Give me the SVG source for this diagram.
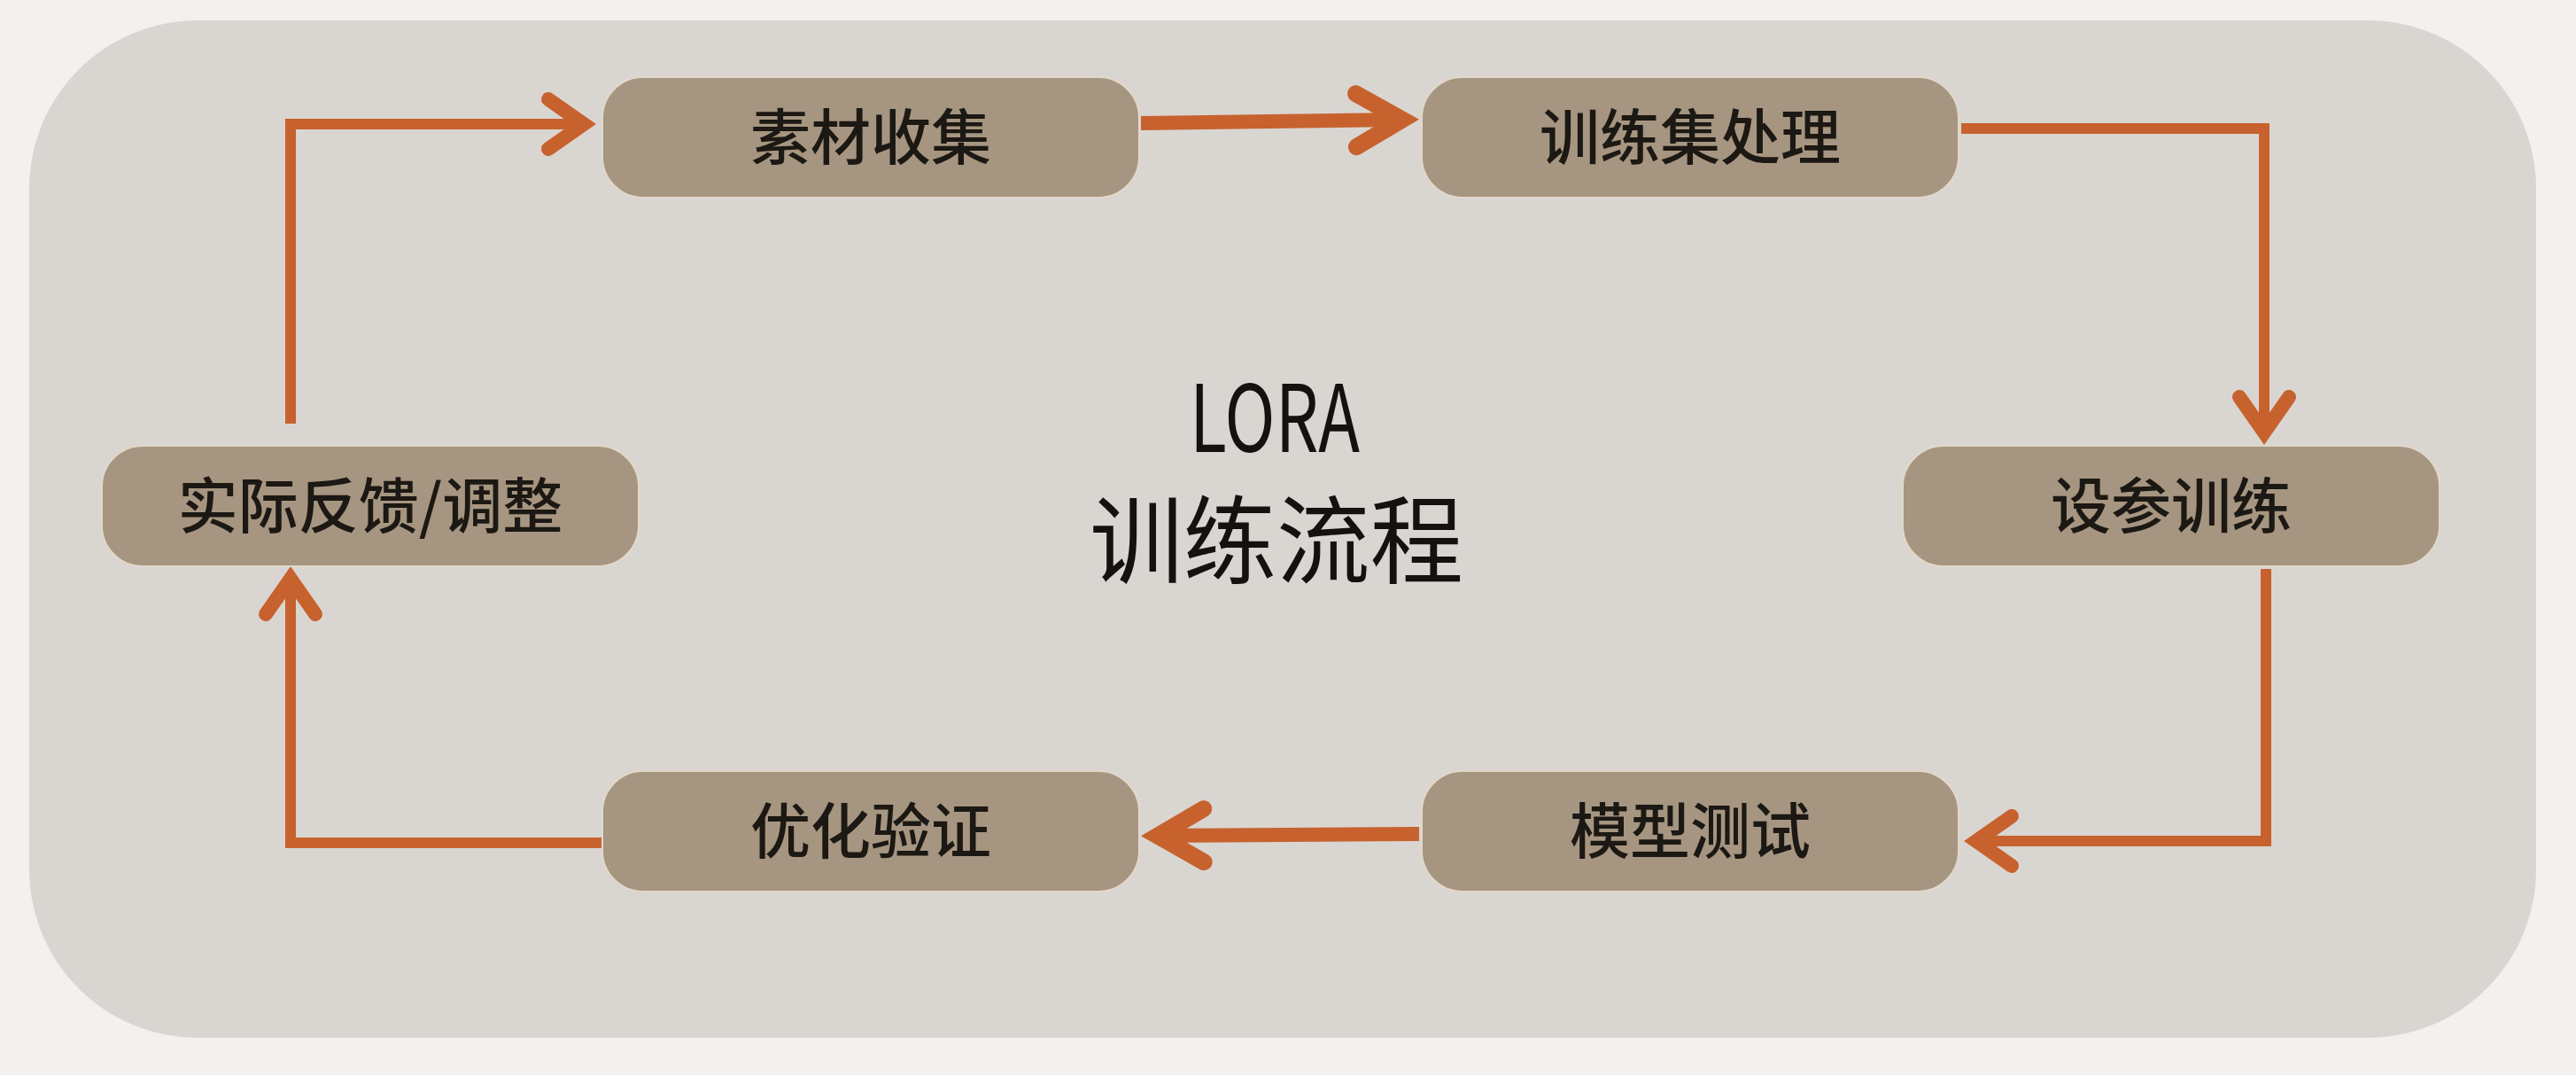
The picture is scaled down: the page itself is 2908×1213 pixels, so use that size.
<svg xmlns="http://www.w3.org/2000/svg" width="2908" height="1213" viewBox="0 0 2908 1213">
  <style>
    .node rect { fill: #a69580; stroke: #e2d8c9; stroke-width: 2; }
    .node text { font-family: "Noto Sans CJK SC", "Noto Sans", sans-serif; font-size: 68px; font-weight: 500; fill: #1c1813; text-anchor: middle; }
    .conn { fill: none; stroke: #c7622e; stroke-linejoin: miter; stroke-linecap: butt; }
    .thin { stroke-width: 12; }
    .thick { stroke-width: 16; }
    .title { font-family: "Noto Sans CJK SC", "Noto Sans", sans-serif; font-weight: 400; fill: #141210; text-anchor: middle; }
  </style>
  <defs>
    <marker id="headThin" markerUnits="userSpaceOnUse" viewBox="-80 -60 120 120" refX="0" refY="0" markerWidth="120" markerHeight="120" orient="auto" overflow="visible">
      <path d="M -40 -28 L 0 0 L -40 28" fill="none" stroke="#c7622e" stroke-width="16" stroke-linecap="round" stroke-linejoin="miter"/>
    </marker>
    <marker id="headThick" markerUnits="userSpaceOnUse" viewBox="-80 -60 120 120" refX="0" refY="0" markerWidth="120" markerHeight="120" orient="auto" overflow="visible">
      <path d="M -52 -30 L 0 0 L -52 30" fill="none" stroke="#c7622e" stroke-width="19" stroke-linecap="round" stroke-linejoin="miter"/>
    </marker>
  </defs>

  <rect x="0" y="0" width="2908" height="1213" fill="#f3f1ee"/>
  <rect id="panel" x="33" y="23" width="2830" height="1148" rx="190" ry="190" fill="#d9d6d2"/>

  <g id="title">
    <text class="title" x="1439" y="510" font-size="105" textLength="192" lengthAdjust="spacingAndGlyphs">LORA</text>
    <text class="title" x="1441" y="650" font-size="108" textLength="422" lengthAdjust="spacingAndGlyphs">训练流程</text>
  </g>

  <g id="connectors">
    <path class="conn thick" d="M 1288 139 L 1583 135" marker-end="url(#headThick)"/>
    <path class="conn thin" d="M 2214 145 L 2556 145 L 2556 488" marker-end="url(#headThin)"/>
    <path class="conn thin" d="M 2558 642 L 2558 949 L 2231 949" marker-end="url(#headThin)"/>
    <path class="conn thick" d="M 1602 941 L 1307 943" marker-end="url(#headThick)"/>
    <path class="conn thin" d="M 679 951 L 328 951 L 328 653" marker-end="url(#headThin)"/>
    <path class="conn thin" d="M 328 478 L 328 140 L 659 140" marker-end="url(#headThin)"/>
  </g>

  <g id="node-sucai" class="node">
    <rect x="680" y="87" width="606" height="136" rx="46"/>
    <text x="983" y="180">素材收集</text>
  </g>
  <g id="node-xunlianji" class="node">
    <rect x="1605" y="87" width="606" height="136" rx="46"/>
    <text x="1908" y="180">训练集处理</text>
  </g>
  <g id="node-shecan" class="node">
    <rect x="2148" y="503" width="606" height="136" rx="46"/>
    <text x="2451" y="596">设参训练</text>
  </g>
  <g id="node-moxing" class="node">
    <rect x="1605" y="870" width="606" height="136" rx="46"/>
    <text x="1908" y="963">模型测试</text>
  </g>
  <g id="node-youhua" class="node">
    <rect x="680" y="870" width="606" height="136" rx="46"/>
    <text x="983" y="963">优化验证</text>
  </g>
  <g id="node-fankui" class="node">
    <rect x="115" y="503" width="606" height="136" rx="46"/>
    <text x="418" y="596">实际反馈/调整</text>
  </g>
</svg>
